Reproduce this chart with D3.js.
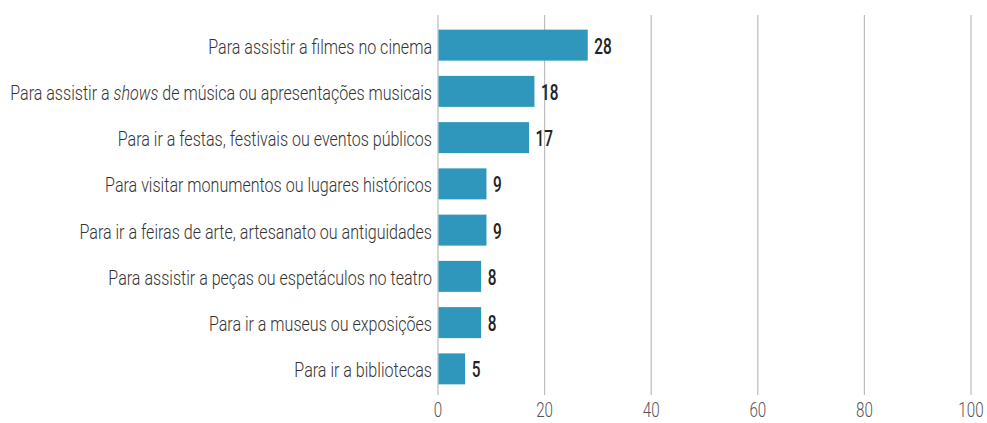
<!DOCTYPE html>
<html><head><meta charset="utf-8">
<script src="https://cdn.jsdelivr.net/npm/d3@7"></script>
<style>
body{margin:0;background:#fff;}
svg{display:block;}
</style></head>
<body>
<svg id="chart" width="987" height="423"></svg>
<script>
// Data
const categories = [
  "Para assistir a filmes no cinema",
  "Para assistir a |shows| de música ou apresentações musicais",
  "Para ir a festas, festivais ou eventos públicos",
  "Para visitar monumentos ou lugares históricos",
  "Para ir a feiras de arte, artesanato ou antiguidades",
  "Para assistir a peças ou espetáculos no teatro",
  "Para ir a museus ou exposições",
  "Para ir a bibliotecas"
];
const values = [28, 18, 17, 9, 9, 8, 8, 5];
const tickValues = [0, 20, 40, 60, 80, 100];

const svg = d3.select("#chart");
const x0 = 438, x1 = 971;
const x = d3.scaleLinear().domain([0, 100]).range([x0, x1]);
const y = d3.scaleBand().domain(categories).range([22, 392]).paddingInner(0.33).paddingOuter(0.165);

const font = "Roboto, 'Noto Sans', sans-serif";
const SX = 0.7; // horizontal condensing for numbers

// gridlines
svg.append("g").selectAll("line").data(tickValues).join("line")
  .attr("x1", d => x(d)).attr("x2", d => x(d))
  .attr("y1", 15).attr("y2", 395)
  .attr("stroke", "#bdbdbd").attr("stroke-width", 1.2);

// bars
svg.append("g").selectAll("rect").data(values).join("rect")
  .attr("x", x(0) + 0.5)
  .attr("y", (d, i) => y(categories[i]))
  .attr("width", d => x(d) - x(0))
  .attr("height", y.bandwidth())
  .attr("fill", "#2f97bc");

// value labels
svg.append("g").selectAll("text").data(values).join("text")
  .attr("transform", (d, i) => `translate(${x(d) + 7},${y(categories[i]) + y.bandwidth() / 2 + 0.5}) scale(${SX},1)`)
  .attr("dy", "0.36em")
  .attr("font-family", font)
  .attr("font-weight", 500)
  .attr("font-size", 22)
  .attr("fill", "#222")
  .text(d => d);

// category labels
const lab = svg.append("g").selectAll("text").data(categories).join("text")
  .attr("dy", "0.36em")
  .attr("text-anchor", "end")
  .attr("font-family", font)
  .attr("font-weight", 300)
  .attr("font-size", 21)
  .attr("fill", "#333");
lab.each(function(d) {
  const parts = d.split("|");
  const t = d3.select(this);
  parts.forEach((p, i) => {
    t.append("tspan").attr("font-style", i % 2 ? "italic" : "normal").text(p);
  });
});
// fit longest label to reference width
let maxW = 0;
lab.each(function() { maxW = Math.max(maxW, this.getComputedTextLength()); });
const lsx = 422 / maxW;
lab.attr("transform", d => `translate(432,${y(d) + y.bandwidth() / 2 + 1}) scale(${lsx},1)`);

// x axis labels
const axis = d3.axisBottom(x).tickValues(tickValues).tickSize(0).tickPadding(0);
const ag = svg.append("g").attr("transform", "translate(0,417)").call(axis);
ag.select(".domain").remove();
ag.selectAll("text")
  .attr("font-family", font)
  .attr("font-weight", 300)
  .attr("font-size", 20)
  .attr("fill", "#555")
  .attr("dy", 0)
  .attr("y", 0)
  .attr("transform", "scale(0.76,1)")
  .attr("x", 0);
ag.selectAll(".tick").each(function(d) {
  d3.select(this).attr("transform", `translate(${x(d)},417)`);
});
ag.attr("transform", null);
</script>
</body></html>
